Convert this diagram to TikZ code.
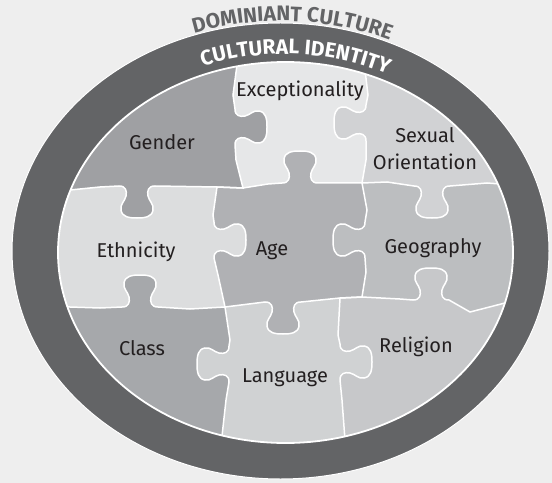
\documentclass[tikz,border=0pt]{standalone}
\usepackage{fontspec}
\setmainfont{Fira Sans}
\usetikzlibrary{decorations.text}

\definecolor{backgray}{HTML}{EEEEEE}
\definecolor{ringgray}{HTML}{636466}
\definecolor{inkgray}{HTML}{231F20}
\definecolor{gendergray}{HTML}{9FA0A3}
\definecolor{exceptgray}{HTML}{E6E7E8}
\definecolor{sexualgray}{HTML}{D1D2D4}
\definecolor{ethnicgray}{HTML}{DCDDDE}
\definecolor{agegray}{HTML}{B0B1B4}
\definecolor{geogray}{HTML}{BCBEC0}
\definecolor{classgray}{HTML}{A6A8AB}
\definecolor{langgray}{HTML}{D0D2D3}
\definecolor{religgray}{HTML}{C7C8CA}

% knob on a row seam (drawn left to right), #3=1 points down, -1 up
\newcommand\rowknob[3]{%
  -- ({#1-18},#2)
  .. controls ({#1-11},#2) and ({#1-10},{#2+(#3)*5}) .. ({#1-11},{#2+(#3)*10})
  .. controls ({#1-12},{#2+(#3)*15}) and ({#1-17},{#2+(#3)*18}) .. ({#1-16},{#2+(#3)*24})
  .. controls ({#1-15},{#2+(#3)*31}) and ({#1-8},{#2+(#3)*32}) .. (#1,{#2+(#3)*32})
  .. controls ({#1+8},{#2+(#3)*32}) and ({#1+15},{#2+(#3)*31}) .. ({#1+16},{#2+(#3)*24})
  .. controls ({#1+17},{#2+(#3)*18}) and ({#1+12},{#2+(#3)*15}) .. ({#1+11},{#2+(#3)*10})
  .. controls ({#1+10},{#2+(#3)*5}) and ({#1+11},#2) .. ({#1+18},#2)}
% knob on a column seam (drawn top to bottom), #3=1 points right, -1 left
\newcommand\colknob[3]{%
  -- (#1,{#2-18})
  .. controls (#1,{#2-11}) and ({#1+(#3)*5},{#2-10}) .. ({#1+(#3)*10},{#2-11})
  .. controls ({#1+(#3)*15},{#2-12}) and ({#1+(#3)*18},{#2-17}) .. ({#1+(#3)*24},{#2-16})
  .. controls ({#1+(#3)*31},{#2-15}) and ({#1+(#3)*32},{#2-8}) .. ({#1+(#3)*32},#2)
  .. controls ({#1+(#3)*32},{#2+8}) and ({#1+(#3)*31},{#2+15}) .. ({#1+(#3)*24},{#2+16})
  .. controls ({#1+(#3)*18},{#2+17}) and ({#1+(#3)*15},{#2+12}) .. ({#1+(#3)*10},{#2+11})
  .. controls ({#1+(#3)*5},{#2+10}) and (#1,{#2+11}) .. (#1,{#2+18})}

% the four seams
\newcommand\rowseamA{-- (40,193) -- (100,187) \rowknob{137}{186}{1} -- (217,187) -- (243,188)
  -- (268,184) \rowknob{300}{183}{-1} -- (362,183) -- (387,182) \rowknob{432}{186}{1}
  -- (487,183) -- (540,187)}
\newcommand\rowseamB{-- (40,306) -- (100,308) \rowknob{140}{307}{-1} -- (190,309) -- (225,307)
  \rowknob{283}{302}{1} -- (340,298) -- (362,297) -- (400,299) \rowknob{431}{300}{-1}
  -- (470,312) -- (505,303) -- (540,298)}
\newcommand\colseamA{-- (236,40) -- (237,65) -- (233,95) \colknob{235}{127}{1} -- (236,160)
  -- (243,188) -- (217,187) -- (213,215) \colknob{214}{240}{1} -- (218,275) -- (225,307)
  -- (230,340) \colknob{229}{364}{-1} -- (226,400) -- (221,445) -- (220,470)}
\newcommand\colseamB{-- (366,40) -- (365,70) -- (368,95) \colknob{366}{123}{-1} -- (366,160)
  -- (362,183) -- (367,210) \colknob{365}{240}{-1} -- (366,272) -- (362,297) -- (340,298)
  -- (338,335) \colknob{340}{362}{1} -- (342,400) -- (345,440) -- (346,470)}

% regions above a row seam, left of a column seam
\newcommand\aboverowA{(0,0) -- (0,193) \rowseamA -- (552,187) -- (552,0) -- cycle}
\newcommand\aboverowB{(0,0) -- (0,306) \rowseamB -- (552,298) -- (552,0) -- cycle}
\newcommand\leftcolA{(0,0) -- (236,0) \colseamA -- (220,483) -- (0,483) -- cycle}
\newcommand\leftcolB{(0,0) -- (366,0) \colseamB -- (346,483) -- (0,483) -- cycle}

\tikzset{
  idtext/.style={font=\fontsize{20bp}{27bp}\selectfont, text=inkgray, inner sep=0pt, align=center},
  seam/.style={draw=white, line width=1.5bp},
}

\begin{document}
\begin{tikzpicture}[x=1bp, y=-1bp]
  \useasboundingbox (0,0) rectangle (552,483);
  \fill[backgray] (0,0) rectangle (552,483);

  % ring
  \fill[ringgray, draw=white, line width=1bp] (280.5,251) ellipse [x radius=268.5, y radius=228];
  \path[decorate, decoration={text along path, text align=center, text color=ringgray,
      text={|\fontsize{21bp}{21bp}\selectfont\bfseries|DOMINIANT CULTURE}}]
    ([shift={(243:272 and 231)}]281,252) arc[start angle=243, end angle=302, x radius=272, y radius=231];
  \path[decorate, decoration={text along path, text align=center, text color=white,
      text={|\fontsize{21bp}{21bp}\selectfont\bfseries|CULTURAL IDENTITY}}]
    ([shift={(241:234 and 198)}]284,252) arc[start angle=241, end angle=305, x radius=234, y radius=198];

  % puzzle
  \begin{scope}
    \clip (285.5,252.5) ellipse [x radius=227.5, y radius=190.5];
    \fill[religgray] (0,0) rectangle (552,483);
    \fill[geogray] \aboverowB;
    \fill[sexualgray] \aboverowA;
    \begin{scope}
      \clip \leftcolB;
      \fill[langgray] (0,0) rectangle (552,483);
      \fill[agegray] \aboverowB;
      \fill[exceptgray] \aboverowA;
      \begin{scope}
        \clip \leftcolA;
        \fill[classgray] (0,0) rectangle (552,483);
        \fill[ethnicgray] \aboverowB;
        \fill[gendergray] \aboverowA;
      \end{scope}
    \end{scope}
    \draw[seam] (30,193) \rowseamA;
    \draw[seam] (30,306) \rowseamB;
    \draw[seam] (236,30) \colseamA;
    \draw[seam] (366,30) \colseamB;
  \end{scope}
  \draw[white, line width=1.8bp] (285.5,252.5) ellipse [x radius=227.5, y radius=190.5];

  \node[idtext, anchor=base] (except) at (300,97) {Exceptionality};
  \node[idtext, anchor=base] (gender) at (162,150) {Gender};
  \node[idtext] (sexual) at (425,149) {Sexual\\Orientation};
  \node[idtext, anchor=base] (ethnic) at (136,257) {Ethnicity};
  \node[idtext, anchor=base] (age) at (272,255) {Age};
  \node[idtext, anchor=base] (geo) at (433,253) {Geography};
  \node[idtext, anchor=base] (class) at (142,355) {Class};
  \node[idtext, anchor=base] (lang) at (285,382) {Language};
  \node[idtext, anchor=base] (relig) at (416,352) {Religion};
\end{tikzpicture}
\end{document}
